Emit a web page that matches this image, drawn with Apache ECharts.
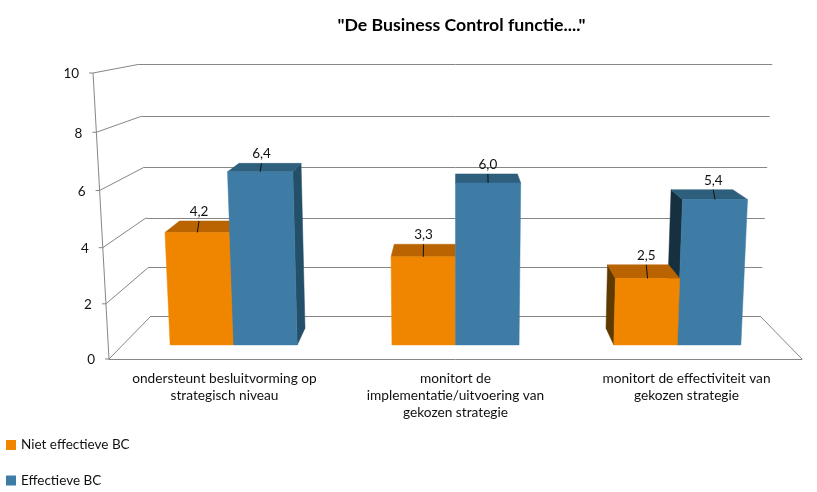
<!DOCTYPE html>
<html><head><meta charset="utf-8">
<style>html,body{margin:0;padding:0;background:#fff}#c{width:817px;height:492px}</style>
<script src="https://cdn.jsdelivr.net/npm/echarts@6/dist/echarts.min.js"></script>
</head><body><div id="c"></div>
<script>
const categories = ['ondersteunt besluitvorming op\nstrategisch niveau','monitort de\nimplementatie/uitvoering van\ngekozen strategie','monitort de effectiviteit van\ngekozen strategie'];
const nietEffectief = [4.2, 3.3, 2.5];
const effectief = [6.4, 6.0, 5.4];
const yTicks = [0, 2, 4, 6, 8, 10];
const FONT = 'Lato';
const GRID = '#868686';
const palette = [
  {name:'Niet effectieve BC', front:'#F08600', top:'#B96400', right:'#7a4600', left:'#5F3A00'},
  {name:'Effectieve BC', front:'#3E7CA6', top:'#2E5F7D', right:'#234F68', left:'#17303F'}
];
// Perspective box: depth d (0 front .. 1 back), applied to positions from the cartesian scales
function project(cs, px, py, d){
  const cx = cs.x + cs.width/2, v = (cs.y + cs.height - py)/cs.height;
  const w = 1 + 0.138*d - 0.044*v;
  return [cx + (px-cx)/w, (py + 0.6*d)/w];
}
const line = (a,b,extra)=>({type:'line',shape:{x1:a[0],y1:a[1],x2:b[0],y2:b[1]},style:Object.assign({stroke:GRID,lineWidth:1},extra||{}),silent:true});
const crisp = p=>[p[0],Math.round(p[1])+0.5];

function renderFrame(params, api){
  const cs = params.coordSys, v = api.value(1), py = api.coord([0,v])[1];
  const L = cs.x, R = cs.x+cs.width;
  const fl = project(cs,L,py,0), bl = project(cs,L,py,1), br = project(cs,R,py,1);
  const ch = [
    line(fl,[bl[0],bl[1]]),
    line(crisp(bl),crisp(br)),
    line([fl[0]-4,fl[1]],fl),
    {type:'text',silent:true,style:{text:String(v),x:fl[0]-14,y:fl[1]+1,align:'right',verticalAlign:'middle',font:'13.5px '+FONT,fill:'#111'}}
  ];
  if(v===0){
    const fa = project(cs,L,api.coord([0,yTicks[yTicks.length-1]])[1],0);
    ch.push(line(fa,fl));
    ch.push(line(project(cs,R,py,0),br));
  }
  return {type:'group',children:ch};
}
function renderBar(params, api){
  const cs = params.coordSys, si = params.seriesIndex-1, cat = api.value(0), val = api.value(1);
  const c = palette[si], band = api.size([1,0])[0], barW = band*0.2865;
  const base = api.coord([cat,0]), topPt = api.coord([cat,val]);
  const x0 = base[0] + (si===0 ? -barW : 0), x1 = x0 + barW;
  const D0 = 0.3, D1 = 0.69, y0 = base[1], y1 = topPt[1];
  const P = (x,y,d)=>project(cs,x,y,d);
  const cx = cs.x+cs.width/2;
  const z2 = si===1 ? 15 : (x1 > cx+barW ? 20 : 10);
  const poly = (pts,fill)=>({type:'polygon',shape:{points:pts},z2,silent:true,style:{fill,stroke:fill,lineWidth:0.5}});
  const ch = [];
  if(x1 < cx) ch.push(poly([P(x1,y0,D0),P(x1,y1,D0),P(x1,y1,D1),P(x1,y0,D1)],c.right));
  if(x0 > cx) ch.push(poly([P(x0,y0,D0),P(x0,y1,D0),P(x0,y1,D1),P(x0,y0,D1)],c.left));
  ch.push(poly([P(x0,y1,D0),P(x1,y1,D0),P(x1,y1,D1),P(x0,y1,D1)],c.top));
  ch.push(poly([P(x0,y0,D0),P(x1,y0,D0),P(x1,y1,D0),P(x0,y1,D0)],c.front));
  const xm = (x0+x1)/2, a = P(xm,y1,D0), b = [P(xm,y1,0.35)[0],P(xm,y1,D1)[1]];
  ch.push(Object.assign(line(a,b,{stroke:'#111'}),{z2:30}));
  ch.push({type:'text',silent:true,z2:30,style:{text:val.toFixed(1).replace('.',','),x:b[0],y:b[1]-9.5,align:'center',verticalAlign:'middle',font:'13.5px '+FONT,fill:'#111'}});
  return {type:'group',children:ch};
}
const chart = echarts.init(document.getElementById('c'),null,{renderer:'canvas'});
chart.setOption({
  animation:false,
  backgroundColor:'#fff',
  textStyle:{fontFamily:FONT},
  title:{text:'"De Business Control functie...."',left:456.5,top:11,textAlign:'center',textStyle:{fontFamily:FONT,fontSize:17.7,fontWeight:'bold',color:'#000'}},
  legend:{orient:'vertical',left:6,top:438,padding:0,itemWidth:10,itemHeight:10,itemGap:21.5,icon:'rect',data:palette.map(p=>p.name),textStyle:{fontFamily:FONT,fontSize:13.5,color:'#111'}},
  grid:{left:109,right:15,top:69.8,bottom:133},
  xAxis:{type:'category',data:categories,axisLine:{lineStyle:{color:GRID}},axisTick:{length:4,lineStyle:{color:GRID}},axisLabel:{fontFamily:FONT,fontSize:13.7,color:'#111',margin:11,lineHeight:17,interval:0},splitLine:{show:false}},
  yAxis:{type:'value',min:0,max:10,interval:2,show:false},
  series:[
    {type:'custom',name:'frame',renderItem:renderFrame,clip:false,z:1,data:yTicks.map(v=>[0,v]),encode:{x:0,y:1}},
    {type:'custom',name:palette[0].name,renderItem:renderBar,clip:false,z:2,itemStyle:{color:palette[0].front},data:nietEffectief.map((v,i)=>[i,v]),encode:{x:0,y:1}},
    {type:'custom',name:palette[1].name,renderItem:renderBar,clip:false,z:2,itemStyle:{color:palette[1].front},data:effectief.map((v,i)=>[i,v]),encode:{x:0,y:1}}
  ]
});
</script></body></html>
